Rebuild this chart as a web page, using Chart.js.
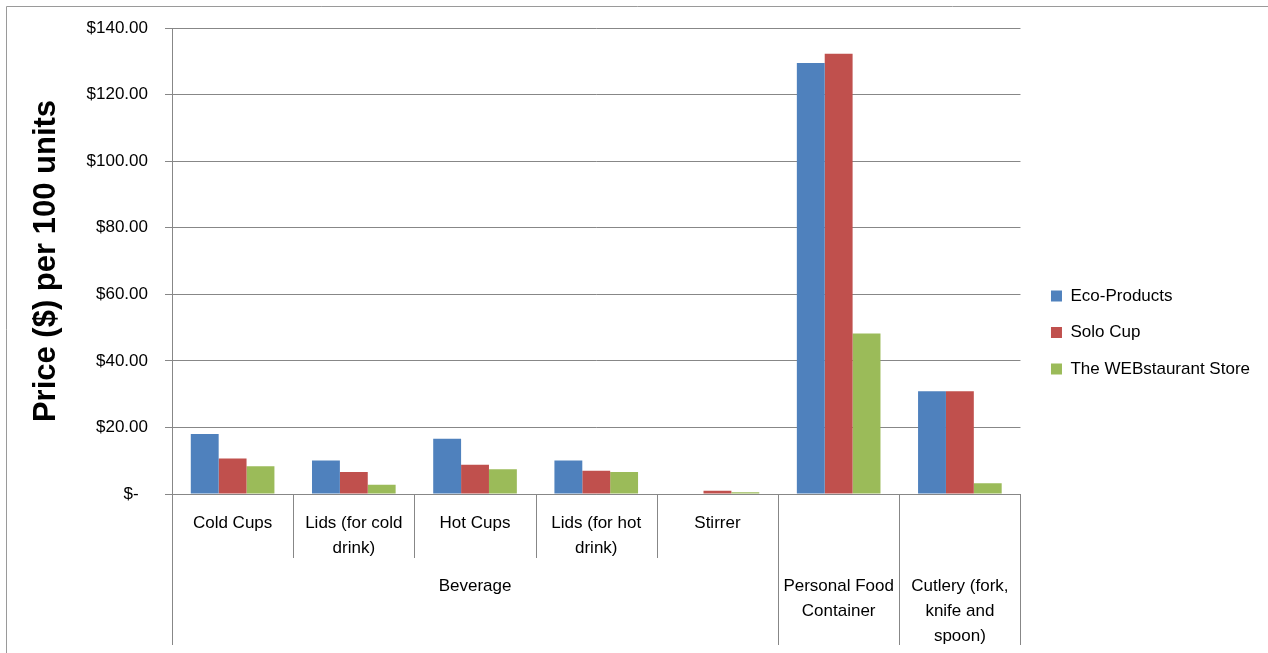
<!DOCTYPE html>
<html lang="en">
<head>
    <meta charset="UTF-8">
    <title>Price per 100 units</title>
    <script src="https://cdn.jsdelivr.net/npm/chart.js"></script>
    <style>
        body { margin: 0; background: #fff; }
        .box { position: relative; width: 1268px; height: 653px; }
    </style>
</head>
<body>
    <div class="box">
        <canvas id="grafico"></canvas>
    </div>

    <script>
        // categorias (primeira linha do eixo) e grupos (segunda linha)
        var categorias = [
            ['Cold Cups'], ['Lids (for cold', 'drink)'], ['Hot Cups'],
            ['Lids (for hot', 'drink)'], ['Stirrer'], [''], ['']
        ];
        var grupos = [['Beverage'], ['Personal Food', 'Container'], ['Cutlery (fork,', 'knife and', 'spoon)']];
        var gruposInicio = [0, 5, 6];
        var gruposFim = [4, 5, 6];

        var series = ['Eco-Products', 'Solo Cup', 'The WEBstaurant Store'];
        var ecoProducts = [18.0, 10.1, 16.6, 10.1, 0, 129.5, 30.9];
        var soloCup = [10.7, 6.6, 8.8, 7.0, 1.0, 132.3, 30.9];
        var webstaurant = [8.3, 2.8, 7.4, 6.6, 0.5, 48.2, 3.2];

        var cinza = '#878787';
        var fonte = '"Liberation Sans", Arial, sans-serif';

        // desenha separadores e rotulos do eixo em dois niveis
        var eixoMultinivel = {
            id: 'eixoMultinivel',
            afterDraw: function (chart) {
                var ctx = chart.ctx;
                var x = chart.scales.x;
                var area = chart.chartArea;
                var n = categorias.length;
                var passo = (x.getPixelForValue(1) - x.getPixelForValue(0));
                function borda(i) { return x.getPixelForValue(i) - passo / 2; }

                ctx.save();
                ctx.strokeStyle = cinza;
                ctx.lineWidth = 1;
                var longas = [0];
                gruposFim.forEach(function (f) { longas.push(f + 1); });
                for (var i = 0; i <= n; i++) {
                    var px = Math.round(borda(i)) + 0.5;
                    var fim = longas.indexOf(i) >= 0 ? 645 : 558;
                    ctx.beginPath();
                    ctx.moveTo(px, area.bottom);
                    ctx.lineTo(px, fim);
                    ctx.stroke();
                }

                ctx.fillStyle = '#000';
                ctx.font = '17px ' + fonte;
                ctx.textAlign = 'center';
                ctx.textBaseline = 'middle';
                grupos.forEach(function (linhas, g) {
                    var cx = (borda(gruposInicio[g]) + borda(gruposFim[g] + 1)) / 2;
                    linhas.forEach(function (t, k) {
                        ctx.fillText(t, cx, 586 + k * 25);
                    });
                });

                // moldura do grafico
                ctx.strokeStyle = '#9a9a9a';
                ctx.beginPath();
                ctx.moveTo(6.5, 653);
                ctx.lineTo(6.5, 6.5);
                ctx.lineTo(1268, 6.5);
                ctx.stroke();
                ctx.restore();
            }
        };

        // eixos vazios usados so como espaco
        function espaco(pos, tamanho) {
            return {
                position: pos,
                display: true,
                grid: { display: false },
                border: { display: false },
                ticks: { display: false },
                afterFit: function (s) {
                    if (pos === 'top') { s.height = tamanho; } else { s.width = tamanho; }
                }
            };
        }

        var ctx = document.getElementById('grafico').getContext('2d');
        var grafico = new Chart(ctx, {
            type: 'bar',
            data: {
                labels: categorias,
                datasets: [
                    { label: series[0], data: ecoProducts, backgroundColor: '#4F81BD' },
                    { label: series[1], data: soloCup, backgroundColor: '#C0504D' },
                    { label: series[2], data: webstaurant, backgroundColor: '#9BBB59' }
                ]
            },
            options: {
                responsive: true,
                maintainAspectRatio: false,
                animation: false,
                datasets: {
                    bar: { categoryPercentage: 0.69, barPercentage: 1.0 }
                },
                layout: { padding: { left: 28, top: 12, right: 8, bottom: 0 } },
                plugins: {
                    tooltip: { enabled: false },
                    legend: {
                        position: 'right',
                        maxWidth: 260,
                        labels: {
                            color: '#000',
                            font: { family: fonte, size: 17 },
                            boxWidth: 11,
                            boxHeight: 11,
                            padding: 19.5
                        }
                    }
                },
                scales: {
                    x: {
                        grid: { display: false },
                        border: { color: cinza },
                        ticks: {
                            color: '#000',
                            font: { family: fonte, size: 17, lineHeight: 1.47 },
                            maxRotation: 0,
                            autoSkip: false,
                            padding: 9
                        },
                        afterFit: function (scale) { scale.height = 159; }
                    },
                    y: {
                        min: 0,
                        max: 140,
                        ticks: {
                            stepSize: 20,
                            color: '#000',
                            font: { family: fonte, size: 17 },
                            padding: 17,
                            callback: function (v) { return v === 0 ? '$-  ' : '$' + v.toFixed(2); }
                        },
                        grid: { color: cinza, tickLength: 7 },
                        border: { color: cinza },
                        title: {
                            display: true,
                            text: 'Price ($) per 100 units',
                            color: '#000',
                            font: { family: fonte, size: 31, weight: 'bold', lineHeight: 1.2 },
                            padding: 0
                        },
                        afterFit: function (scale) { scale.width = 172 - 28; }
                    },
                    topo: espaco('top', 16),
                    direita: espaco('right', 11)
                }
            },
            plugins: [eixoMultinivel]
        });
    </script>
</body>
</html>
